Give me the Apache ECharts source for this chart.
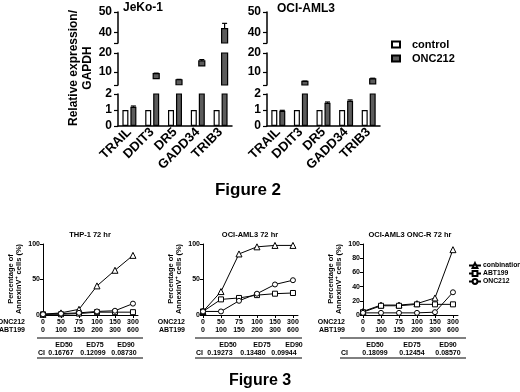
<!DOCTYPE html>
<html>
<head>
<meta charset="utf-8">
<script src="https://cdn.jsdelivr.net/npm/echarts@6/dist/echarts.min.js"></script>
<style>
  html, body { margin: 0; padding: 0; background: #fff; }
  .fig { position: absolute; left: 0; top: 0; width: 520px; height: 392px; }
</style>
</head>
<body>
<div id="fig2" class="fig"></div>
<div id="fig3" class="fig"></div>
<script>
// ---- Figure 2 data ----
const genes = ['TRAIL', 'DDIT3', 'DR5', 'GADD34', 'TRIB3']
const jekoControl = [1, 1, 1, 1, 1]
const jekoOnc = [1.2, 9, 5.8, 15.8, 42]
const jekoOncErr = [0.05, 0.3, 0.2, 0.7, 2.5]
const ociControl = [1, 1, 1, 1, 1]
const ociOnc = [0.95, 4.9, 1.45, 1.58, 6.3]
const ociOncErr = [0.03, 0.2, 0.05, 0.05, 0.3]
// broken y axis: three segments
const segLow = [0, 3, 35]
const segHigh = [2, 20, 50]
const segTicks = [[0, 1, 2], [3, 10, 20], [35, 40, 50]]
const segLabels = [[0, 1, 2], [10, 20], [40, 50]]

// ---- Figure 3 data ----
const doseOnc = ['0', '50', '75', '100', '150', '300']
const doseAbt = ['0', '100', '150', '200', '300', '600']
const thpComb = [1, 3, 8, 41, 63, 84]
const thpAbt = [1, 1, 2, 4, 4, 4]
const thpOnc = [1, 2, 3, 5, 6, 16]
const ociComb = [5, 33, 86, 96, 98, 98]
const ociAbt = [5, 22, 24, 28, 30, 31]
const ociOncSingle = [5, 5, 20, 30, 43, 49]
const resComb = [5, 14, 14, 16, 24, 92]
const resAbt = [4, 13, 13, 15, 15, 15]
const resOnc = [3, 3, 3, 3, 4, 32]
const edNames = ['ED50', 'ED75', 'ED90']
const thpCI = ['0.16767', '0.12099', '0.08730']
const ociCI = ['0.19273', '0.13480', '0.09944']
const resCI = ['0.18099', '0.12454', '0.08570']
const panelTitles = ['THP-1 72 hr', 'OCI-AML3 72 hr', 'OCI-AML3 ONC-R 72 hr']

const FONT = '"Liberation Sans", Arial, sans-serif'
const oncColor = '#5c5c5c'
const black = '#000'

// ================= Figure 2 =================
let chart2 = echarts.init(document.getElementById('fig2'))
const segTop = [94, 53, 12]
const segH = [32, 32, 31]
const panelLeft = [118, 267]
const panelWidth = [114, 113]
const barPanels = [
  { control: jekoControl, onc: jekoOnc, err: jekoOncErr },
  { control: ociControl, onc: ociOnc, err: ociOncErr }
]

function renderSeg (s) {
  return function (params, api) {
    let i = api.value(0)
    let v = api.value(1)
    let e = api.value(2)
    let lo = segLow[s]
    let hi = segHigh[s]
    let off = 4
    let bw = 6
    let kids = []
    if (s > 0 && v > lo) {
      let pTop = api.coord([i, Math.min(v, hi)])
      let pBase = api.coord([i, lo])
      let y0 = pTop[1]
      let y1 = pBase[1]
      // middle segment only shows the top of the bar
      if (s === 1 && v < hi) y1 = Math.min(y1, y0 + 5)
      kids.push({
        type: 'rect',
        shape: { x: pTop[0] + off - bw / 2, y: y0, width: bw, height: y1 - y0 },
        style: { fill: oncColor, stroke: black, lineWidth: 1.2 }
      })
    }
    if (v >= lo && v < hi) {
      let a = api.coord([i, v])
      let b = api.coord([i, Math.min(v + e, hi)])
      kids.push({ type: 'line', shape: { x1: a[0] + off, y1: a[1], x2: a[0] + off, y2: b[1] }, style: { stroke: black, lineWidth: 1.2 } })
      kids.push({ type: 'line', shape: { x1: a[0] + off - 2.5, y1: b[1], x2: a[0] + off + 2.5, y2: b[1] }, style: { stroke: black, lineWidth: 1.2 } })
    }
    return { type: 'group', children: kids }
  }
}

let grid2 = []
let xAxis2 = []
let yAxis2 = []
let series2 = []
barPanels.forEach((p, pi) => {
  for (let s = 0; s < 3; s++) {
    let gi = pi * 3 + s
    grid2.push({ left: panelLeft[pi], top: segTop[s], width: panelWidth[pi], height: segH[s] })
    xAxis2.push({
      type: 'category',
      gridIndex: gi,
      data: genes,
      show: s === 0,
      axisLine: { lineStyle: { color: black, width: 1.5 } },
      axisTick: { alignWithLabel: true, length: 4, lineStyle: { color: black, width: 1.2 } },
      axisLabel: { rotate: 45, interval: 0, margin: 4, color: black, fontSize: 13, fontWeight: 'bold', fontFamily: FONT }
    })
    yAxis2.push({
      type: 'value',
      gridIndex: gi,
      min: segLow[s],
      max: segHigh[s],
      axisLine: { show: true, lineStyle: { color: black, width: 1.5 } },
      axisTick: { show: true, customValues: segTicks[s], length: 4, lineStyle: { color: black, width: 1.2 } },
      axisLabel: { customValues: segLabels[s], margin: 6, color: black, fontSize: 12, fontWeight: 'bold', fontFamily: FONT },
      splitLine: { show: false }
    })
    if (s === 0) {
      series2.push({
        name: 'control',
        type: 'bar',
        xAxisIndex: gi,
        yAxisIndex: gi,
        data: p.control,
        barWidth: 6,
        barGap: '33%',
        itemStyle: { color: '#fff', borderColor: black, borderWidth: 1.2 }
      })
      series2.push({
        name: 'ONC212',
        type: 'bar',
        xAxisIndex: gi,
        yAxisIndex: gi,
        data: p.onc,
        barWidth: 6,
        barGap: '33%',
        itemStyle: { color: oncColor, borderColor: black, borderWidth: 1.2 }
      })
    }
    series2.push({
      type: 'custom',
      xAxisIndex: gi,
      yAxisIndex: gi,
      renderItem: renderSeg(s),
      encode: { x: 0, y: 1 },
      data: genes.map((g, i) => [i, p.onc[i], p.err[i]]),
      z: 5
    })
  }
})

chart2.setOption({
  animation: false,
  textStyle: { fontFamily: FONT },
  legend: {
    orient: 'vertical',
    left: 386,
    top: 34,
    icon: 'rect',
    itemWidth: 8,
    itemHeight: 6,
    itemGap: 3,
    selectedMode: false,
    data: ['control', 'ONC212'],
    textStyle: { fontSize: 11, fontWeight: 'bold', color: black, fontFamily: FONT, padding: [0, 0, 0, 7] }
  },
  grid: grid2,
  xAxis: xAxis2,
  yAxis: yAxis2,
  series: series2,
  graphic: [
    { type: 'text', left: 123, top: 2, style: { text: 'JeKo-1', font: 'bold 12px ' + FONT, fill: black } },
    { type: 'text', left: 277, top: 3, style: { text: 'OCI-AML3', font: 'bold 12px ' + FONT, fill: black } },
    {
      type: 'text', x: 81, y: 68, rotation: Math.PI / 2,
      style: { text: 'Relative expression/\nGAPDH', font: 'bold 12px ' + FONT, lineHeight: 14, fill: black, align: 'center', verticalAlign: 'middle' }
    },
    { type: 'text', x: 248, y: 190, style: { text: 'Figure 2', font: 'bold 17px ' + FONT, fill: black, align: 'center', verticalAlign: 'middle' } }
  ]
})

// ================= Figure 3 =================
let chart3 = echarts.init(document.getElementById('fig3'))
const lineLeft = [43, 203, 363]
const lineData = [
  { comb: thpComb, abt: thpAbt, onc: thpOnc, ci: thpCI, step: 50 },
  { comb: ociComb, abt: ociAbt, onc: ociOncSingle, ci: ociCI, step: 50 },
  { comb: resComb, abt: resAbt, onc: resOnc, ci: resCI, step: 20 }
]
const tableL = [37, 195, 340]
const tableR = [143, 302, 466]
const edX = [[64, 95, 126], [228, 262, 294], [375, 412, 448]]
const ciX = [[61, 93, 124], [220, 253, 284], [375, 412, 448]]

let grid3 = []
let xAxis3 = []
let yAxis3 = []
let series3 = []
let graphic3 = []
const ptStyle = { color: '#fff', borderColor: black, borderWidth: 1 }
lineData.forEach((p, k) => {
  grid3.push({ left: lineLeft[k], top: 244, width: 95, height: 71 })
  xAxis3.push({
    type: 'value',
    gridIndex: k,
    min: 0,
    max: 5.28,
    axisLine: { show: true, lineStyle: { color: black, width: 1 } },
    axisTick: { show: true, customValues: [0, 1, 2, 3, 4, 5], length: 3, lineStyle: { color: black } },
    axisLabel: {
      customValues: [0, 1, 2, 3, 4, 5],
      formatter: v => doseOnc[Math.round(v)] + '\n' + doseAbt[Math.round(v)],
      margin: 3, lineHeight: 8, fontSize: 7, fontWeight: 'bold', color: black, fontFamily: FONT
    },
    splitLine: { show: false }
  })
  yAxis3.push({
    type: 'value',
    gridIndex: k,
    min: 0,
    max: 100,
    interval: p.step,
    axisLine: { show: true, lineStyle: { color: black, width: 1 } },
    axisTick: { show: true, length: 3, lineStyle: { color: black } },
    axisLabel: { margin: 3, fontSize: 7, fontWeight: 'bold', color: black, fontFamily: FONT },
    splitLine: { show: false }
  })
  let mk = (name, vals, sym) => ({
    name: name,
    type: 'line',
    xAxisIndex: k,
    yAxisIndex: k,
    data: vals.map((v, i) => [i, v]),
    symbol: sym,
    symbolSize: sym === 'triangle' ? 6 : 5,
    showAllSymbol: true,
    lineStyle: { color: black, width: 1 },
    itemStyle: ptStyle
  })
  series3.push(mk('conbination', p.comb, 'triangle'))
  series3.push(mk('ABT199', p.abt, 'rect'))
  series3.push(mk('ONC212', p.onc, 'circle'))

  let x0 = lineLeft[k]
  graphic3.push({ type: 'text', x: x0 + 47, y: 235, style: { text: panelTitles[k], font: 'bold 7.5px ' + FONT, fill: black, align: 'center', verticalAlign: 'middle' } })
  graphic3.push({
    type: 'text', x: x0 - 28, y: 279, rotation: Math.PI / 2,
    style: { text: 'Percentage of\nAnnexinV\u207A cells (%)', font: 'bold 7.5px ' + FONT, lineHeight: 8.5, fill: black, align: 'center', verticalAlign: 'middle' }
  })
  graphic3.push({ type: 'text', x: x0 - 18, y: 322, style: { text: 'ONC212', font: 'bold 7px ' + FONT, fill: black, align: 'right', verticalAlign: 'middle' } })
  graphic3.push({ type: 'text', x: x0 - 18, y: 330, style: { text: 'ABT199', font: 'bold 7px ' + FONT, fill: black, align: 'right', verticalAlign: 'middle' } })
  graphic3.push({ type: 'line', shape: { x1: tableL[k], y1: 338, x2: tableR[k], y2: 338 }, style: { stroke: black, lineWidth: 1 } })
  graphic3.push({ type: 'line', shape: { x1: tableL[k], y1: 358, x2: tableR[k], y2: 358 }, style: { stroke: black, lineWidth: 1 } })
  graphic3.push({ type: 'text', x: tableL[k] + 1, y: 353, style: { text: 'CI', font: 'bold 7px ' + FONT, fill: black, align: 'left', verticalAlign: 'middle' } })
  edNames.forEach((n, j) => {
    graphic3.push({ type: 'text', x: edX[k][j], y: 345, style: { text: n, font: 'bold 7px ' + FONT, fill: black, align: 'center', verticalAlign: 'middle' } })
    graphic3.push({ type: 'text', x: ciX[k][j], y: 353, style: { text: p.ci[j], font: 'bold 7px ' + FONT, fill: black, align: 'center', verticalAlign: 'middle' } })
  })
})
graphic3.push({ type: 'text', x: 260, y: 381, style: { text: 'Figure 3', font: 'bold 16px ' + FONT, fill: black, align: 'center', verticalAlign: 'middle' } })

chart3.setOption({
  animation: false,
  textStyle: { fontFamily: FONT },
  legend: {
    orient: 'vertical',
    left: 463,
    top: 257,
    itemWidth: 12,
    itemHeight: 6,
    itemGap: 1,
    selectedMode: false,
    data: ['conbination', 'ABT199', 'ONC212'],
    textStyle: { fontSize: 6.8, fontWeight: 'bold', color: black, fontFamily: FONT, padding: [0, 0, 0, -3] }
  },
  grid: grid3,
  xAxis: xAxis3,
  yAxis: yAxis3,
  series: series3,
  graphic: graphic3
})
</script>
</body>
</html>
